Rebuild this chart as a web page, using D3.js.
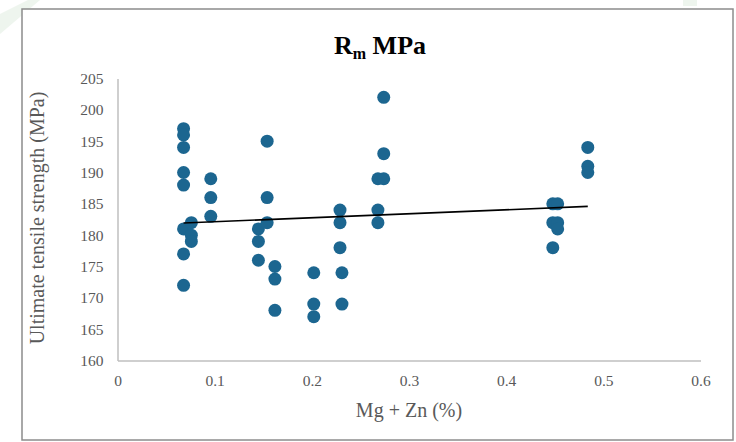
<!DOCTYPE html>
<meta charset="utf-8">
<style>
body { margin: 0; background: #fff; }
</style>
<svg width="736" height="442"></svg>
<script src="https://d3js.org/d3.v7.min.js"></script>
<script>

// Mg + Zn content (%) of each group of samples
var groupX = [0.068, 0.076, 0.096, 0.145, 0.154, 0.162, 0.202, 0.229, 0.231, 0.268, 0.274, 0.448, 0.453, 0.484];
// ultimate tensile strength values (MPa) measured in each group
var groupRm = [
  [197, 196, 194, 190, 188, 181, 177, 172],
  [182, 180, 179],
  [189, 186, 183],
  [181, 179, 176],
  [195, 186, 182],
  [175, 173, 168],
  [174, 169, 167],
  [184, 182, 178],
  [174, 169],
  [189, 184, 182],
  [202, 193, 189],
  [185, 182, 178],
  [185, 182, 181],
  [194, 191, 190]
];
var xTicks = [0, 0.1, 0.2, 0.3, 0.4, 0.5, 0.6];
var yTicks = [160, 165, 170, 175, 180, 185, 190, 195, 200, 205];

var serif = "'Liberation Serif', 'Times New Roman', 'DejaVu Serif', serif";
var svg = d3.select("svg");

// faint background marks from the page behind the chart
svg.append("path")
    .attr("d", "M0,14 L28,0 L40,0 L0,34 Z")
    .attr("fill", "#eef5ee");
svg.append("rect")
    .attr("x", 683).attr("y", 0).attr("width", 14).attr("height", 6)
    .attr("fill", "#eef5ee");

// chart frame
svg.append("rect")
    .attr("x", 22).attr("y", 9)
    .attr("width", 711).attr("height", 431)
    .attr("fill", "#fff")
    .attr("stroke", "#8c8c8c")
    .attr("stroke-width", 1.5);

var x = d3.scaleLinear().domain([0, 0.6]).range([117.5, 700.5]);
var y = d3.scaleLinear().domain([160, 205]).range([360.5, 78.5]);

var points = [];
groupX.forEach(function(gx, i) {
  groupRm[i].forEach(function(v) { points.push({x: gx, y: v}); });
});

// least squares trend line
var mx = d3.mean(points, function(d) { return d.x; }),
    my = d3.mean(points, function(d) { return d.y; });
var sxy = d3.sum(points, function(d) { return (d.x - mx) * (d.y - my); }),
    sxx = d3.sum(points, function(d) { return (d.x - mx) * (d.x - mx); });
var slope = sxy / sxx, icpt = my - slope * mx;
var xExt = d3.extent(points, function(d) { return d.x; });

function styleAxis(g) {
  g.attr("font-family", serif).attr("font-size", 15.5);
  g.select(".domain").attr("stroke", "#bfbfbf").attr("stroke-width", 1.5);
  g.selectAll("text").attr("fill", "#595959");
}

svg.append("g")
    .attr("transform", "translate(0," + y(160) + ")")
    .call(d3.axisBottom(x).tickValues(xTicks).tickSize(0).tickPadding(14)
      .tickFormat(function(d) { return d === 0 ? "0" : d3.format(".1f")(d); }))
    .call(styleAxis);

svg.append("g")
    .attr("transform", "translate(" + x(0) + ",0)")
    .call(d3.axisLeft(y).tickValues(yTicks).tickSize(0).tickPadding(14))
    .call(styleAxis);

svg.append("g")
  .selectAll("circle")
  .data(points)
  .enter().append("circle")
    .attr("cx", function(d) { return x(d.x); })
    .attr("cy", function(d) { return y(d.y); })
    .attr("r", 6.5)
    .attr("fill", "#1c6690");

svg.append("line")
    .attr("x1", x(xExt[0])).attr("y1", y(icpt + slope * xExt[0]))
    .attr("x2", x(xExt[1])).attr("y2", y(icpt + slope * xExt[1]))
    .attr("stroke", "#000")
    .attr("stroke-width", 1.6);

// title with subscript
var title = svg.append("text")
    .attr("x", 380).attr("y", 54)
    .attr("text-anchor", "middle")
    .attr("font-family", serif)
    .attr("font-weight", "bold")
    .attr("font-size", 26)
    .attr("fill", "#000");
title.append("tspan").text("R");
title.append("tspan").attr("font-size", 16).attr("dy", 5).text("m");
title.append("tspan").attr("dy", -5).text(" MPa");

svg.append("text")
    .attr("x", 409).attr("y", 417)
    .attr("text-anchor", "middle")
    .attr("font-family", serif)
    .attr("font-size", 20)
    .attr("fill", "#595959")
    .text("Mg + Zn (%)");

svg.append("text")
    .attr("transform", "translate(44,218) rotate(-90)")
    .attr("text-anchor", "middle")
    .attr("font-family", serif)
    .attr("font-size", 20)
    .attr("fill", "#595959")
    .text("Ultimate tensile strength (MPa)");

</script>
